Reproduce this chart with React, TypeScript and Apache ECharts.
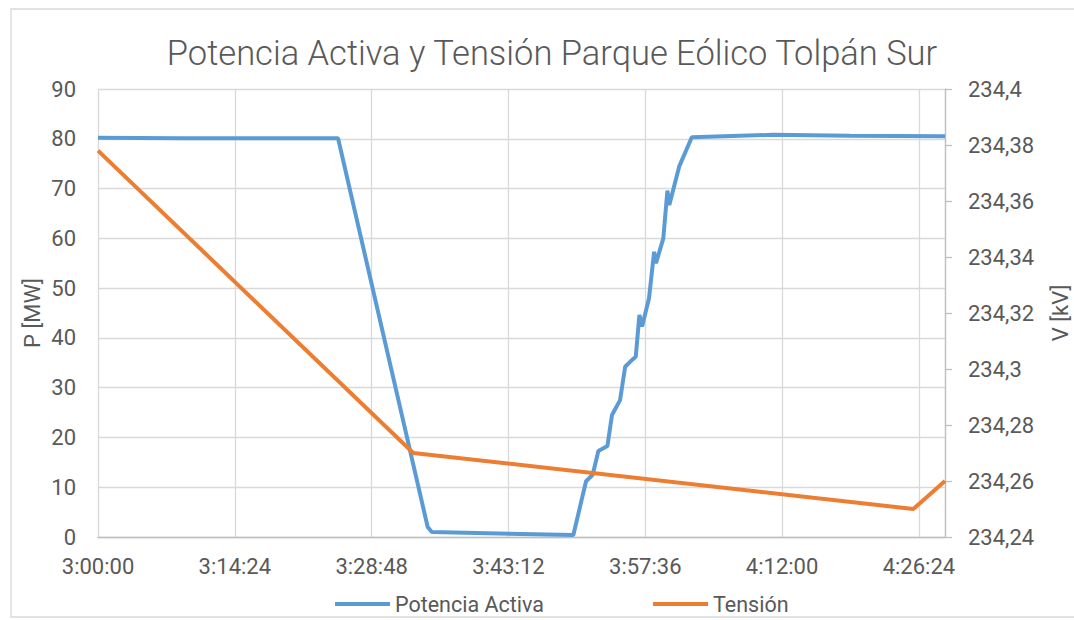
import React, { useEffect, useRef } from "react";
import * as echarts from "echarts";

const chartTitle = "Potencia Activa y Tensión Parque Eólico Tolpán Sur";
const seriesNames = ["Potencia Activa", "Tensión"];
const leftAxisName = "P [MW]";
const rightAxisName = "V [kV]";

const startTime = "3:00:00";
const endTime = "4:29:09";
const tickStepSeconds = 864; // 0:14:24

const powerTimes = [
  "3:00:00", "3:08:38", "3:25:16", "3:34:42", "3:35:08", "3:50:02", "3:51:22",
  "3:52:04", "3:52:40", "3:53:37", "3:54:06", "3:54:57", "3:55:29", "3:56:00",
  "3:56:36", "3:56:59", "3:57:16", "3:58:00", "3:58:32", "3:58:44", "3:59:30",
  "3:59:56", "4:00:08", "4:01:10", "4:02:30", "4:11:03", "4:19:10", "4:29:09",
];
const powerValues = [
  80.2, 80.1, 80.1, 2.0, 1.0, 0.4, 11.2,
  12.5, 17.3, 18.3, 24.5, 27.5, 34.2, 35.2,
  36.2, 44.6, 42.3, 48.0, 57.3, 55.0, 60.0,
  69.6, 66.7, 74.4, 80.3, 80.8, 80.6, 80.5,
];

const voltageTimes = ["3:00:00", "3:33:11", "4:25:49", "4:29:09"];
const voltageValues = [234.378, 234.27, 234.25, 234.26];

const pMin = 0, pMax = 90, pStep = 10;
const vMin = 234.24, vMax = 234.4, vStep = 0.02;

const toSec = (t: string) => {
  const [h, m, s] = t.split(":").map(Number);
  return h * 3600 + m * 60 + s;
};
const base = toSec(startTime);
const toOffset = (t: string) => toSec(t) - base;
const fmtTime = (v: number) => {
  const tot = Math.round(v + base);
  const h = Math.floor(tot / 3600);
  const m = Math.floor((tot % 3600) / 60);
  const s = tot % 60;
  return `${h}:${String(m).padStart(2, "0")}:${String(s).padStart(2, "0")}`;
};

const FONT = "Roboto";
const TXT = "#595959";
const GRID = "#d9d9d9";
const AXIS = "#bfbfbf";
const BLUE = "#5b9bd5";
const ORANGE = "#ed7d31";

export default function App() {
  const ref = useRef<HTMLDivElement>(null);
  useEffect(() => {
    document.body.style.margin = "0";
    if (!ref.current) return;
    const chart = echarts.init(ref.current, undefined, { renderer: "svg" });
    chart.setOption({
      animation: false,
      backgroundColor: "#ffffff",
      textStyle: { fontFamily: FONT },
      grid: { left: 98, right: 129, top: 89, bottom: 83, containLabel: false },
      legend: {
        data: seriesNames,
        icon: "rect",
        left: 330,
        top: 588,
        itemWidth: 55,
        itemHeight: 4,
        itemGap: 109,
        textStyle: { fontFamily: FONT, fontSize: 21.5, color: TXT },
      },
      xAxis: {
        type: "value",
        min: 0,
        max: toOffset(endTime),
        interval: tickStepSeconds,
        axisLine: { show: true, lineStyle: { color: AXIS, width: 1.3 } },
        axisTick: { show: false },
        splitLine: { show: true, lineStyle: { color: GRID, width: 1.3 } },
        axisLabel: {
          formatter: (v: number) => fmtTime(v),
          showMaxLabel: false,
          margin: 18,
          fontFamily: FONT,
          fontSize: 22,
          color: TXT,
        },
      },
      yAxis: [
        {
          type: "value",
          min: pMin,
          max: pMax,
          interval: pStep,
          axisLine: { show: false },
          axisTick: { show: false },
          splitLine: { show: true, lineStyle: { color: GRID, width: 1.3 } },
          axisLabel: { margin: 22, fontFamily: FONT, fontSize: 22, color: TXT },
        },
        {
          type: "value",
          min: vMin,
          max: vMax,
          interval: vStep,
          position: "right",
          axisLine: { show: true, lineStyle: { color: AXIS, width: 1.3 } },
          axisTick: { show: true, inside: false, length: 7, lineStyle: { color: AXIS, width: 1.3 } },
          splitLine: { show: false },
          axisLabel: {
            margin: 23,
            fontFamily: FONT,
            fontSize: 22,
            color: TXT,
            formatter: (v: number) => String(Number(v.toFixed(2))).replace(".", ","),
          },
        },
      ],
      series: [
        {
          name: seriesNames[0],
          type: "line",
          yAxisIndex: 0,
          symbol: "none",
          lineStyle: { color: BLUE, width: 4 },
          itemStyle: { color: BLUE },
          data: powerTimes.map((t, i) => [toOffset(t), powerValues[i]]),
        },
        {
          name: seriesNames[1],
          type: "line",
          yAxisIndex: 1,
          symbol: "none",
          lineStyle: { color: ORANGE, width: 4 },
          itemStyle: { color: ORANGE },
          data: voltageTimes.map((t, i) => [toOffset(t), voltageValues[i]]),
        },
      ],
      graphic: [
        {
          type: "rect",
          silent: true,
          shape: { x: 11, y: 9, width: 1100, height: 608 },
          style: { fill: "none", stroke: GRID, lineWidth: 1.3 },
          z: -10,
        },
        {
          type: "text",
          x: 552,
          y: 53,
          style: {
            text: chartTitle,
            fontFamily: FONT,
            fontWeight: 300,
            fontSize: 34.5,
            fill: TXT,
            textAlign: "center",
            textVerticalAlign: "middle",
          },
        },
        {
          type: "text",
          x: 32,
          y: 313,
          rotation: Math.PI / 2,
          style: {
            text: leftAxisName,
            fontFamily: FONT,
            fontSize: 22,
            fill: TXT,
            textAlign: "center",
            textVerticalAlign: "middle",
          },
        },
        {
          type: "text",
          x: 1060,
          y: 313,
          rotation: Math.PI / 2,
          style: {
            text: rightAxisName,
            fontFamily: FONT,
            fontSize: 22,
            fill: TXT,
            textAlign: "center",
            textVerticalAlign: "middle",
          },
        },
      ],
    });
    return () => chart.dispose();
  }, []);
  return <div ref={ref} style={{ width: 1074, height: 620 }} />;
}
